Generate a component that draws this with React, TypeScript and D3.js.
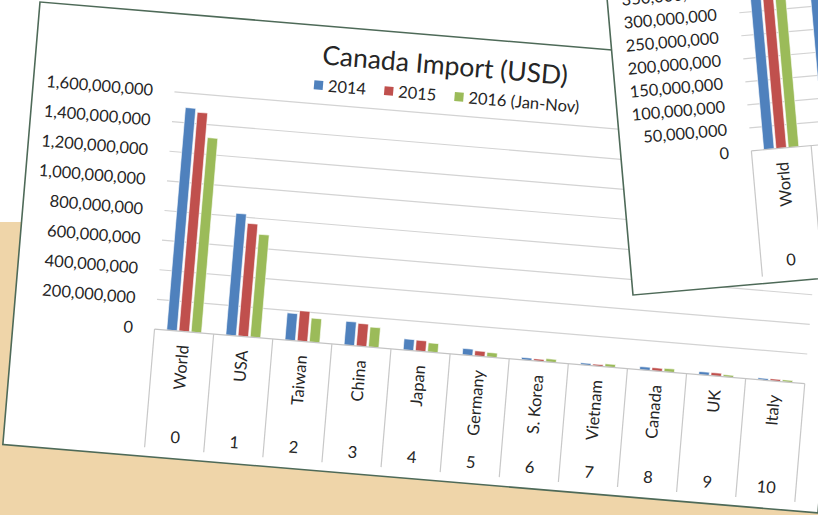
import React from "react";
import * as d3 from "d3";

// Canada import by partner, USD (values in millions)
const categories = ["World", "USA", "Taiwan", "China", "Japan", "Germany", "S. Korea", "Vietnam", "Canada", "UK", "Italy"];
const indexLabels = ["0", "1", "2", "3", "4", "5", "6", "7", "8", "9", "10"];
const seriesNames = ["2014", "2015", "2016 (Jan-Nov)"];
const imports2014 = [1502, 822, 183, 160, 75, 44, 17, 14, 22, 22, 13];
const imports2015 = [1477, 761, 205, 153, 73, 35, 15, 13, 22, 22, 14];
const imports2016 = [1313, 694, 162, 135, 62, 31, 22, 21, 24, 15, 14];
const mainTicks = [0, 200, 400, 600, 800, 1000, 1200, 1400, 1600];
const insetTicks = [0, 50, 100, 150, 200, 250, 300, 350, 400];

const series = [imports2014, imports2015, imports2016];
const colors = ["#4F81BD", "#C0504D", "#9BBB59"];

const width = 818;
const height = 515;
const FONT = "Lato, 'Open Sans', sans-serif";
const TEXT = "#262626";
const GRID = "#d3d3d3";
const FRAME = "#4E6A58";

const fmt = (m: number) => d3.format(",")(m * 1e6);

// one chart body (grid, bars, axis labels); used by the big chart and the inset
const Plot = ({ x0, y, ticks, labelX, gridRight, catTop, catBottom, nameY, indexY, clip }: any) => {
  const x1 = d3.scaleBand().domain(seriesNames).range([0, x0.bandwidth()]).paddingInner(0.15).paddingOuter(1);
  const zeroY = y(0);
  const edges = categories.map((c) => x0(c)).concat([x0.range()[1]]);
  return (
    <g>
      {ticks.filter((t: number) => t > 0).map((t: number) => (
        <line key={t} x1={x0.range()[0]} x2={gridRight} y1={y(t)} y2={y(t)} stroke={GRID} strokeWidth={1.2} />
      ))}
      {ticks.map((t: number) => (
        <text key={t} x={labelX} y={y(t)} dy="0.35em" textAnchor="end" fontSize={16.5} fill={TEXT}>
          {fmt(t)}
        </text>
      ))}
      <g clipPath={clip}>
        {categories.map((c, i) => (
          <g key={c} transform={`translate(${x0(c)},0)`}>
            {series.map((s, j) => (
              <rect key={j} x={x1(seriesNames[j])} y={y(s[i])} width={x1.bandwidth()}
                height={zeroY - y(s[i])} fill={colors[j]} stroke="#fff" strokeWidth={0.6} />
            ))}
          </g>
        ))}
      </g>
      <line x1={x0.range()[0]} x2={gridRight} y1={catTop} y2={catTop} stroke="#c4c4c4" strokeWidth={1.2} />
      {edges.map((e, i) => (
        <line key={i} x1={e} x2={e} y1={catTop} y2={catBottom} stroke="#c8c8c8" strokeWidth={1.2} />
      ))}
      {categories.map((c, i) => {
        const cx = x0(c) + x0.bandwidth() / 2;
        return (
          <g key={c}>
            <text transform={`translate(${cx},${nameY}) rotate(-90)`} dy="0.35em" textAnchor="end" fontSize={16.5} fill={TEXT}>
              {c}
            </text>
            <text x={cx} y={indexY} dy="0.35em" textAnchor="middle" fontSize={16.5} fill={TEXT}>
              {indexLabels[i]}
            </text>
          </g>
        );
      })}
    </g>
  );
};

const App = () => {
  // main chart, drawn upright then tilted as in the photo
  const mainX = d3.scaleBand().domain(categories).range([141.5, 794]);
  const mainY = d3.scaleLinear().domain([0, 1600]).range([316.3, 78.4]);

  // the second copy, zoomed to 0..400M, lying on top at the upper right
  const insetX = d3.scaleBand().domain(categories).range([130.5, 130.5 + 60 * categories.length]);
  const insetY = d3.scaleLinear().domain([0, 400]).range([-133.3, -318.1]);

  const legendX = [294, 364.5, 435];

  return (
    <svg width={width} height={height} style={{ position: "absolute", left: 0, top: 0 }} fontFamily={FONT}>
      <defs>
        <clipPath id="insetClip">
          <rect x={0} y={-460} width={420} height={460} />
        </clipPath>
      </defs>
      <rect x={0} y={0} width={width} height={height} fill="#ffffff" />
      <rect x={0} y={222} width={width} height={height - 222} fill="#EFD5A9" />

      <g transform="translate(40,2) rotate(4.8)">
        <rect x={0} y={0} width={818} height={444} fill="#fff" stroke={FRAME} strokeWidth={1.6} />
        <text x={409} y={38.5} textAnchor="middle" fontSize={26.5} fill={TEXT}>
          Canada Import (USD)
        </text>
        {seriesNames.map((s, j) => (
          <g key={s}>
            <rect x={legendX[j] - 14} y={55} width={9} height={9} fill={colors[j]} />
            <text x={legendX[j]} y={59.5} dy="0.35em" fontSize={16.5} fill={TEXT}>
              {s}
            </text>
          </g>
        ))}
        <Plot x0={mainX} y={mainY} ticks={mainTicks} labelX={120} gridRight={794}
          catTop={316.3} catBottom={435} nameY={330} indexY={422.5} />
      </g>

      <g transform="translate(633,295) rotate(-5)">
        <rect x={0} y={-460} width={420} height={460} fill="#fff" stroke={FRAME} strokeWidth={1.6} />
        <Plot x0={insetX} y={insetY} ticks={insetTicks} labelX={108} gridRight={420}
          catTop={-133.3} catBottom={-7} nameY={-119.5} indexY={-21.5} clip="url(#insetClip)" />
      </g>
    </svg>
  );
};

export default App;
